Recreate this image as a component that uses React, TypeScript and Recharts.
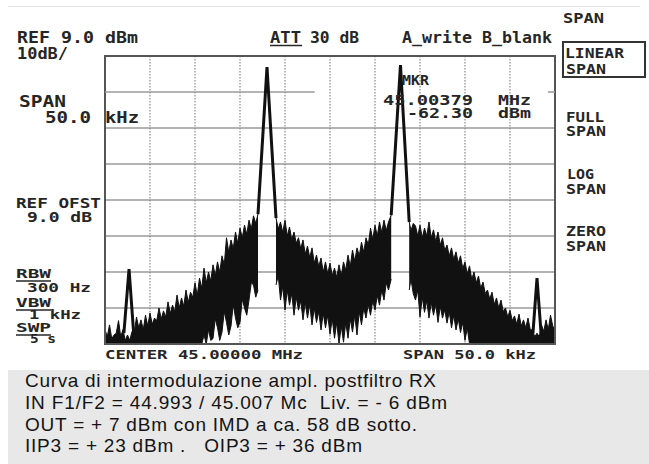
import React from 'react';
import { ComposedChart, Area, Line, XAxis, YAxis, CartesianGrid, ReferenceLine, ReferenceArea } from 'recharts';

// Frequency offset from 44.975 MHz in kHz (span 50 kHz), level in dBm (REF 9 dBm, 10 dB/div)
const leftFreq = [0,0.25,0.5,0.75,1,1.25,1.5,1.75,2,2.25,2.5,2.75,3,3.25,3.5,3.75,4,4.25,4.5,4.75,5,5.25,5.5,5.75,6,6.25,6.5,6.75,7,7.25,7.5,7.75,8,8.25,8.5,8.75,9,9.25,9.5,9.75,10,10.25,10.5,10.75,11,11.25,11.5,11.75,12,12.25,12.5,12.75,13,13.25,13.5,13.75,14,14.25,14.5,14.75,15,15.25,15.5,15.75,16,16.25,16.5,16.75,17];
const leftHigh = [-67,-69,-65.7,-69.5,-68.5,-68,-64.5,-69,-67,-70,-68.5,-70,-67.5,-68,-63.5,-66.5,-64.3,-67,-63,-66,-62.4,-65.5,-63.8,-64.5,-61,-64,-61.8,-63.5,-59.3,-62.5,-60.2,-62,-57.4,-61,-58.2,-60.5,-56,-59.5,-56.6,-58,-54,-57.5,-52.7,-55.5,-49.9,-54,-51,-53.5,-49,-52,-48.2,-51,-46.5,-49,-41.5,-45.5,-42.1,-44.5,-39.9,-43,-38.8,-41.5,-38,-40.5,-36.6,-39,-35.4,-37.5,-34.9];
const leftLow = [-71,-71,-71,-71,-71,-71,-71,-71,-71,-71,-71,-71,-71,-71,-71,-71,-71,-71,-71,-71,-71,-71,-71,-71,-71,-71,-71,-71,-71,-71,-71,-71,-71,-71,-71,-71,-71,-71,-71,-71,-71,-71,-71,-71,-68.5,-71,-67,-70,-69.5,-64,-66.5,-70,-67.7,-62,-65,-68.5,-66,-60,-63.8,-66.5,-65,-58.5,-61,-63,-58.8,-54,-54.6,-58,-56];

const midFreq = [19,19.25,19.5,19.75,20,20.25,20.5,20.75,21,21.25,21.5,21.75,22,22.25,22.5,22.75,23,23.25,23.5,23.75,24,24.25,24.5,24.75,25,25.25,25.5,25.75,26,26.25,26.5,26.75,27,27.25,27.5,27.75,28,28.25,28.5,28.75,29,29.25,29.5,29.75,30,30.25,30.5,30.75,31,31.25,31.5,31.8];
const midHigh = [-36,-39,-37.1,-40,-36.6,-41,-38.5,-42,-39.9,-43,-41.5,-44.5,-42.1,-46,-43.8,-47,-44.3,-48.5,-46.3,-49.5,-47.1,-51,-48.2,-51.5,-48.5,-52,-49.9,-52.5,-49,-52,-48.2,-50.5,-46.3,-49.5,-44.9,-48,-44.3,-46.5,-42.7,-45.5,-41.5,-43.5,-38.8,-42,-38,-41,-37.1,-40,-36.6,-39.5,-37.1,-35.2];
const midLow = [-54.6,-52,-58.8,-55,-61.6,-56,-60.2,-57,-63,-58,-61.6,-59,-64.3,-59.5,-63.8,-60,-65.7,-61,-65,-62,-67.1,-62.5,-66.5,-63,-68.3,-64,-69.4,-65,-71,-66,-70.5,-65,-69.4,-64,-67.7,-63,-68.5,-62,-65.7,-61,-63.8,-60,-63,-59,-61.6,-57.5,-60.2,-56,-58.8,-54,-56,-53];

const rightFreq = [33.8,34,34.25,34.5,34.75,35,35.25,35.5,35.75,36,36.25,36.5,36.75,37,37.25,37.5,37.75,38,38.25,38.5,38.75,39,39.25,39.5,39.75,40,40.25,40.5,40.75,41,41.25,41.5,41.75,42,42.25,42.5,42.75,43,43.25,43.5,43.75,44,44.25,44.5,44.75,45,45.25,45.5,45.75,46,46.25,46.5,46.75,47,47.25,47.5,47.75,48,48.25,48.5,48.75,49,49.25,49.5,49.75,50];
const rightHigh = [-37.1,-39.5,-37.5,-38.2,-41,-38,-41.5,-38.8,-41,-37.1,-41.5,-39.3,-42.5,-39.9,-43.5,-41.5,-45,-43.5,-46.5,-44.3,-47.5,-45.4,-48.5,-46.5,-50,-48.2,-51.5,-49.3,-53,-51,-54,-52.1,-55.5,-53.8,-57,-56,-58.5,-56.6,-60,-58.2,-61,-58.8,-62,-61,-63.5,-61.6,-64.5,-63.2,-65.5,-62.7,-66,-64.3,-66.5,-63.8,-67,-67.1,-69,-68,-69,-65.7,-67.5,-64.3,-67,-63,-66,-67.1];
const rightLow = [-56,-53,-57,-58.8,-56,-63.5,-58,-62.2,-59,-63.8,-59.5,-63,-60,-65,-60.5,-63.8,-61.5,-65.2,-62,-66.5,-63,-67.1,-64,-67.8,-65,-70,-66.5,-71,-71,-71,-71,-71,-71,-71,-71,-71,-71,-71,-71,-71,-71,-71,-71,-71,-71,-71,-71,-71,-71,-71,-71,-71,-71,-71,-71,-71,-71,-71,-71,-71,-71,-71,-71,-71,-71,-71];

const carrier1Freq = [17, 18, 19];
const carrier1Level = [-34.9, 5.9, -36];
const carrier2Freq = [31.8, 32.83, 33.8];
const carrier2Level = [-35.2, 6.5, -37.1];
const imdLowFreq = [2.1, 2.67, 3.2];
const imdLowLevel = [-68, -50.2, -68.5];
const imdHighFreq = [47.55, 48.0, 48.45];
const imdHighLevel = [-68, -52.7, -68];

const hGridValues = [-61, -51, -41, -31, -21, -11];
const vGridValues = [5, 10, 15, 20, 25, 30, 35, 40, 45];

const band = (f: number[], lo: number[], hi: number[]) => f.map((x, i) => ({ f: x, range: [lo[i], hi[i]] }));
const trace = (f: number[], v: number[]) => f.map((x, i) => ({ f: x, v: v[i] }));

const leftBand = band(leftFreq, leftLow, leftHigh);
const midBand = band(midFreq, midLow, midHigh);
const rightBand = band(rightFreq, rightLow, rightHigh);

const MONO = '"DejaVu Sans Mono", "Liberation Mono", monospace';
const INK = '#262626';

const M = ({ x, y, w, s = 15, t }: { x: number; y: number; w: number; s?: number; t: string }) => (
  <text x={x} y={y} textLength={w} lengthAdjust="spacingAndGlyphs" fontFamily={MONO} fontWeight="bold" fontSize={s} fill={INK} style={{ whiteSpace: 'pre' }}>
    {t}
  </text>
);

const S = ({ y, w, t }: { y: number; w: number; t: string }) => (
  <text x={25} y={y} textLength={w} lengthAdjust="spacing" fontFamily='"Liberation Sans", Arial, sans-serif' fontSize={19} fill="#141414" style={{ whiteSpace: 'pre' }}>
    {t}
  </text>
);

const bandProps = { type: 'linear' as const, dataKey: 'range', stroke: '#111', strokeWidth: 1, fill: '#111', fillOpacity: 1, dot: false, activeDot: false, isAnimationActive: false };
const peakProps = { type: 'linear' as const, dataKey: 'v', stroke: '#111', strokeWidth: 3, dot: false, activeDot: false, isAnimationActive: false };

export default function App() {
  return (
    <div style={{ position: 'relative', width: 649, height: 464, background: '#fff', overflow: 'hidden' }}>
      <style>{`body{margin:0;background:#fff}`}</style>
      <div style={{ position: 'absolute', left: 0, top: 0 }}>
        <ComposedChart width={649} height={464} margin={{ top: 56, right: 94, bottom: 120, left: 105 }}>
          <XAxis type="number" dataKey="f" domain={[0, 50]} hide allowDataOverflow />
          <YAxis type="number" domain={[-71, 9]} hide allowDataOverflow />
          <CartesianGrid vertical={false} horizontalValues={hGridValues} stroke="#9a9a9a" strokeWidth={1.5} />
          <CartesianGrid horizontal={false} verticalValues={vGridValues} stroke="#8a8a8a" strokeWidth={1.2} strokeDasharray="1.5 1.5" />
          <ReferenceLine segment={[{ x: 0, y: -1 }, { x: 23.3, y: -1 }]} stroke="#9a9a9a" strokeWidth={1.5} />
          <ReferenceLine segment={[{ x: 49.2, y: -1 }, { x: 50, y: -1 }]} stroke="#9a9a9a" strokeWidth={1.5} />
          <Area data={leftBand} {...bandProps} />
          <Area data={midBand} {...bandProps} />
          <Area data={rightBand} {...bandProps} />
          <Line data={trace(carrier1Freq, carrier1Level)} {...peakProps} />
          <Line data={trace(carrier2Freq, carrier2Level)} {...peakProps} />
          <Line data={trace(imdLowFreq, imdLowLevel)} {...peakProps} />
          <Line data={trace(imdHighFreq, imdHighLevel)} {...peakProps} />
          <ReferenceArea x1={0} x2={50} y1={-71} y2={9} fill="none" stroke="#555" strokeWidth={2} ifOverflow="visible" />
        </ComposedChart>
      </div>
      <svg width={649} height={464} style={{ position: 'absolute', left: 0, top: 0, pointerEvents: 'none' }}>
        <line x1={8} y1={6.5} x2={640} y2={6.5} stroke="#e2e2e2" strokeWidth={1} />
        <M x={17} y={43} w={121} t="REF 9.0 dBm" />
        <M x={17} y={59} w={51} t="10dB/" />
        <M x={270} y={43} w={31} t="ATT" />
        <line x1={270} y1={45.5} x2={302} y2={45.5} stroke={INK} strokeWidth={1.5} />
        <M x={310} y={43} w={49} t="30 dB" />
        <M x={402} y={43} w={150} t="A_write B_blank" />
        <M x={563} y={23} w={41} s={14} t="SPAN" />
        <rect x={563} y={42} width={82} height={35} fill="none" stroke="#333" strokeWidth={2} />
        <M x={565} y={58} w={59} s={14} t="LINEAR" />
        <M x={566} y={74} w={40} s={14} t="SPAN" />
        <M x={566} y={122} w={38} s={14} t="FULL" />
        <M x={566} y={136} w={40} s={14} t="SPAN" />
        <M x={567} y={179} w={27} s={14} t="LOG" />
        <M x={566} y={194} w={40} s={14} t="SPAN" />
        <M x={566} y={236} w={40} s={14} t="ZERO" />
        <M x={566} y={251} w={40} s={14} t="SPAN" />
        <M x={19} y={107} w={47} t="SPAN" />
        <M x={45} y={123} w={46} t="50.0" />
        <M x={105} y={123} w={34} t="kHz" />
        <M x={16} y={208} w={85} s={14} t="REF OFST" />
        <M x={27} y={222} w={65} s={14} t="9.0 dB" />
        <M x={16} y={278} w={35} s={13} t="RBW" />
        <line x1={16} y1={281} x2={51} y2={281} stroke={INK} strokeWidth={1.5} />
        <M x={27} y={292} w={64} s={13} t="300 Hz" />
        <M x={16} y={307} w={35} s={13} t="VBW" />
        <line x1={16} y1={310} x2={51} y2={310} stroke={INK} strokeWidth={1.5} />
        <M x={29} y={319} w={52} s={13} t="1 kHz" />
        <M x={16} y={332} w={35} s={13} t="SWP" />
        <line x1={16} y1={335} x2={51} y2={335} stroke={INK} strokeWidth={1.5} />
        <M x={30} y={343} w={26} s={13} t="5 s" />
        <M x={402} y={85} w={27} s={14} t="MKR" />
        <M x={383} y={105} w={90} s={14} t="45.00379" />
        <M x={498} y={105} w={33} s={14} t="MHz" />
        <M x={407} y={118} w={66} s={14} t="-62.30" />
        <M x={498} y={118} w={33} s={14} t="dBm" />
        <M x={105} y={359} w={198} s={12.5} t="CENTER 45.00000 MHz" />
        <M x={403} y={359} w={133} s={12.5} t="SPAN 50.0 kHz" />
        <rect x={8} y={370} width={641} height={94} fill="#e8e8e8" />
        <S y={387} w={411} t="Curva di intermodulazione ampl. postfiltro RX" />
        <S y={409} w={422} t="IN F1/F2 = 44.993 / 45.007 Mc  Liv. = - 6 dBm" />
        <S y={431} w={392} t="OUT = + 7 dBm con IMD a ca. 58 dB sotto." />
        <S y={452} w={337} t="IIP3 = + 23 dBm .   OIP3 = + 36 dBm" />
      </svg>
    </div>
  );
}
